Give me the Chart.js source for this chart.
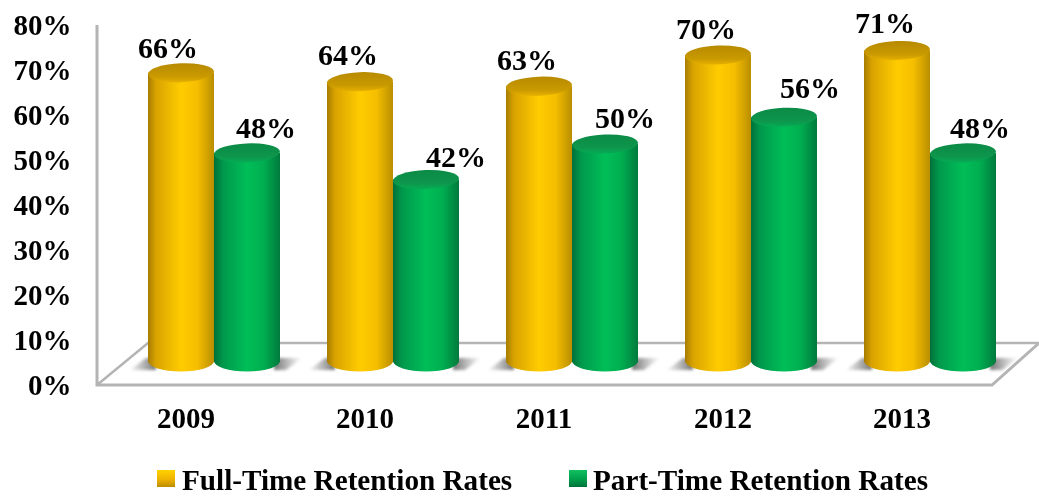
<!DOCTYPE html>
<html>
<head>
<meta charset="utf-8">
<title>Retention Rates</title>
<script src="https://cdn.jsdelivr.net/npm/chart.js@4"></script>
<style>
  html, body { margin: 0; padding: 0; background: #fff; }
  #wrap { position: relative; width: 1039px; height: 496px; }
</style>
</head>
<body>
<div id="wrap"><canvas id="chart"></canvas></div>
<script>
const years = ['2009', '2010', '2011', '2012', '2013'];
const fullTime = [66, 64, 63, 70, 71];
const partTime = [48, 42, 50, 56, 48];
const yTicks = [0, 10, 20, 30, 40, 50, 60, 70, 80];
const seriesNames = ['Full-Time Retention Rates', 'Part-Time Retention Rates'];

const serif = '"Liberation Serif", "Times New Roman", serif';
const barW = 66;
const capRy = 9.5;
const depthX = 51, depthY = 42;

// label nudges per bar, [dx, dy] from top of the cylinder
const fullNudge = [[-13, -23], [-12, -24], [-12, -24], [-12, -24], [-12, -25]];
const partNudge = [[19, -23], [30, -20], [20, -24], [26, -27], [17, -23]];

const yellowStops = [[0, '#A67C00'], [0.12, '#D9A300'], [0.5, '#FFCC00'], [0.75, '#F5BE00'], [1, '#B98E00']];
const greenStops = [[0, '#00703A'], [0.14, '#00994C'], [0.5, '#00BE58'], [0.75, '#00AE50'], [1, '#007A3D']];
const yellowCap = ['#B78A00', '#C99A00', '#E6B000'];
const greenCap = ['#0B8A46', '#0E964C', '#05AC55'];

function sideGradient(ctx, left, stops) {
    const g = ctx.createLinearGradient(left, 0, left + barW, 0);
    stops.forEach(s => g.addColorStop(s[0], s[1]));
    return g;
}

function barFill(stops, side) {
    return function (c) {
        const xs = c.chart.scales.x;
        if (!xs || c.dataIndex === undefined) return stops[2][1];
        const cx = xs.getPixelForValue(c.dataIndex);
        if (!Number.isFinite(cx)) return stops[2][1];
        return sideGradient(c.chart.ctx, side < 0 ? cx - barW : cx, stops);
    };
}

// floor, walls and the soft shadows behind the cylinders
const roomPlugin = {
    id: 'room',
    beforeDatasetsDraw(chart) {
        const { ctx, scales } = chart;
        const front = scales.y.getPixelForValue(0);
        const top = scales.y.getPixelForValue(80);
        const left = 97, right = 992;
        const back = front - depthY;

        ctx.save();
        ctx.strokeStyle = '#B4B4B4';
        ctx.lineWidth = 3;
        ctx.lineJoin = 'miter';
        ctx.beginPath();
        ctx.moveTo(left, top);
        ctx.lineTo(left, front);
        ctx.lineTo(right, front);
        ctx.lineTo(right + depthX - 4, back);
        ctx.stroke();
        ctx.lineWidth = 2.5;
        ctx.beginPath();
        ctx.moveTo(left, front);
        ctx.lineTo(left + depthX, back);
        ctx.lineTo(right + depthX, back);
        ctx.stroke();

        const footY = chart.getDatasetMeta(0).data[0].base;
        ctx.filter = 'blur(1.5px)';
        years.forEach((_, i) => {
            const cx = scales.x.getPixelForValue(i);
            let g = ctx.createLinearGradient(cx - barW - 20, 0, cx - barW + 6, 0);
            g.addColorStop(0, 'rgba(130,130,130,0)');
            g.addColorStop(1, 'rgba(110,110,110,0.9)');
            ctx.fillStyle = g;
            ctx.beginPath();
            ctx.moveTo(cx - barW + 8, footY - 4);
            ctx.lineTo(cx - barW - 2, footY - 4);
            ctx.lineTo(cx - barW - 18, footY + 8);
            ctx.lineTo(cx - barW + 8, footY + 8);
            ctx.fill();

            g = ctx.createLinearGradient(cx + barW - 4, 0, cx + barW + 22, 0);
            g.addColorStop(0, 'rgba(110,110,110,0.9)');
            g.addColorStop(1, 'rgba(130,130,130,0)');
            ctx.fillStyle = g;
            ctx.beginPath();
            ctx.moveTo(cx + barW - 6, footY - 4);
            ctx.lineTo(cx + barW + 22, footY - 4);
            ctx.lineTo(cx + barW + 6, footY + 8);
            ctx.lineTo(cx + barW - 6, footY + 8);
            ctx.fill();
        });
        ctx.restore();
    }
};

// turns each flat bar into a cylinder: rounded foot and top cap
const cylinderPlugin = {
    id: 'cylinder',
    afterDatasetDraw(chart, args) {
        const { ctx } = chart;
        const stops = args.index === 0 ? yellowStops : greenStops;
        const capCols = args.index === 0 ? yellowCap : greenCap;
        args.meta.data.forEach(bar => {
            const left = bar.x - barW / 2;
            ctx.save();
            ctx.fillStyle = sideGradient(ctx, left, stops);
            ctx.beginPath();
            ctx.ellipse(bar.x, bar.base - 1, barW / 2, capRy + 1, 0, 0, Math.PI);
            ctx.fill();

            const g = ctx.createLinearGradient(0, bar.y - capRy, 0, bar.y + capRy);
            g.addColorStop(0, capCols[0]);
            g.addColorStop(0.7, capCols[1]);
            g.addColorStop(1, capCols[2]);
            ctx.fillStyle = g;
            ctx.beginPath();
            ctx.ellipse(bar.x, bar.y, barW / 2, capRy, -0.04, 0, Math.PI * 2);
            ctx.fill();
            ctx.restore();
        });
    }
};

// value labels and the legend row
const textPlugin = {
    id: 'texts',
    afterDraw(chart) {
        const { ctx } = chart;
        ctx.save();
        ctx.fillStyle = '#000';
        ctx.font = 'bold 30px ' + serif;
        ctx.textAlign = 'center';
        ctx.textBaseline = 'middle';
        chart.data.datasets.forEach((ds, d) => {
            const nudge = d === 0 ? fullNudge : partNudge;
            chart.getDatasetMeta(d).data.forEach((bar, i) => {
                ctx.fillText(ds.data[i] + '%', bar.x + nudge[i][0], bar.y + nudge[i][1]);
            });
        });

        const boxX = [157, 569];
        const textX = [182, 593];
        ctx.textAlign = 'left';
        ctx.textBaseline = 'alphabetic';
        ctx.font = 'bold 29.2px ' + serif;
        seriesNames.forEach((name, i) => {
            const g = ctx.createLinearGradient(0, 470, 0, 488);
            const cols = i === 0 ? ['#FFD200', '#F0B400', '#B58700'] : ['#10C060', '#00A04C', '#006E38'];
            g.addColorStop(0, cols[0]);
            g.addColorStop(0.5, cols[1]);
            g.addColorStop(1, cols[2]);
            ctx.fillStyle = g;
            ctx.fillRect(boxX[i], 470, 18, 17);
            ctx.fillStyle = '#000';
            ctx.fillText(name, textX[i], 490);
        });
        ctx.restore();
    }
};

new Chart(document.getElementById('chart'), {
    type: 'bar',
    data: {
        labels: years,
        datasets: [
            {
                label: seriesNames[0], data: fullTime, yAxisID: 'y2', base: 1,
                backgroundColor: barFill(yellowStops, -1), borderWidth: 0,
                categoryPercentage: 132 / 179, barPercentage: 1
            },
            {
                label: seriesNames[1], data: partTime, yAxisID: 'y2', base: 1,
                backgroundColor: barFill(greenStops, 1), borderWidth: 0,
                categoryPercentage: 132 / 179, barPercentage: 1
            }
        ]
    },
    options: {
        responsive: true,
        maintainAspectRatio: false,
        animation: false,
        events: [],
        layout: { padding: { left: 0, right: 19.5, top: 25, bottom: 0 } },
        plugins: { legend: { display: false }, tooltip: { enabled: false } },
        scales: {
            x: {
                grid: { display: false },
                border: { display: false },
                afterFit(s) { s.height = 111; },
                ticks: {
                    color: '#000', padding: 10, labelOffset: -28, maxRotation: 0,
                    font: { family: serif, size: 29, weight: 'bold' }
                }
            },
            y: {
                min: 0, max: 80,
                grid: { display: false },
                border: { display: false },
                afterFit(s) { s.width = 124.5; s.paddingTop = 0; s.paddingBottom = 0; },
                afterBuildTicks(s) { s.ticks = yTicks.map(v => ({ value: v })); },
                ticks: {
                    color: '#000', padding: 45, labelOffset: 2.5,
                    font: { family: serif, size: 29, weight: 'bold' },
                    callback: v => v + '%'
                }
            },
            // cylinders stand further back than the tick labels, so they get their own scale
            y2: { display: false, min: -4.16, max: 76.74 }
        }
    },
    plugins: [roomPlugin, cylinderPlugin, textPlugin]
});
</script>
</body>
</html>
